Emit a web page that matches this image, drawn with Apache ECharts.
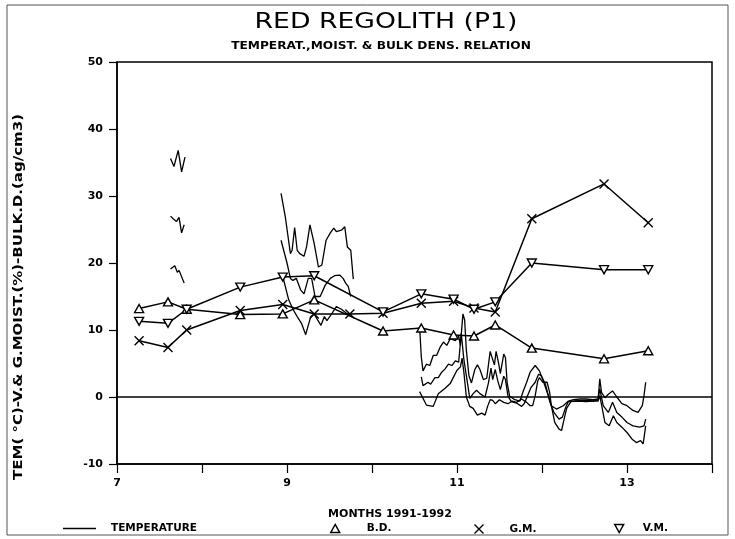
<!DOCTYPE html>
<html>
<head>
<meta charset="utf-8">
<title>Red Regolith (P1)</title>
<script src="https://cdn.jsdelivr.net/npm/echarts@6/dist/echarts.min.js"></script>
<style>
  html, body { margin: 0; padding: 0; background: #fff; }
  #chart { width: 735px; height: 539px; }
</style>
</head>
<body>
<div id="chart"></div>
<script>
// x axis: months 1991-1992 (7 = July 1991, 13 = January 1992)
const xTickLabels = [7, 9, 11, 13];

// bulk density (triangle up)
const bdMonths = [7.26, 7.60, 7.82, 8.45, 8.95, 9.32, 10.13, 10.58, 10.96, 11.20, 11.45, 11.88, 12.73, 13.25];
const bdValues = [13.2, 14.2, 13.1, 12.3, 12.4, 14.5, 9.85, 10.3, 9.25, 9.1, 10.75, 7.3, 5.7, 6.9];

// gravimetric moisture (cross)
const gmMonths = [7.26, 7.60, 7.82, 8.45, 8.95, 9.32, 9.74, 10.13, 10.58, 10.96, 11.20, 11.45, 11.88, 12.73, 13.25];
const gmValues = [8.4, 7.4, 10.0, 12.9, 13.8, 12.4, 12.4, 12.5, 14.0, 14.3, 13.3, 12.7, 26.6, 31.8, 26.0];

// volumetric moisture (triangle down)
const vmMonths = [7.26, 7.60, 7.82, 8.45, 8.95, 9.32, 10.13, 10.58, 10.96, 11.20, 11.45, 11.88, 12.73, 13.25];
const vmValues = [11.3, 11.0, 13.1, 16.4, 17.9, 18.1, 12.7, 15.4, 14.6, 13.1, 14.2, 20.0, 19.0, 19.0];

// temperature records, three traces, null = gap between records
const tempTop = [
  [7.63, 35.6], [7.67, 34.4], [7.72, 36.8], [7.76, 33.6], [7.80, 35.8],
  null,
  [8.93, 30.4], [8.98, 26.9], [9.04, 21.4], [9.06, 21.9], [9.09, 25.3], [9.12, 21.9], [9.15, 21.4],
  [9.20, 21.0], [9.23, 22.4], [9.27, 25.7], [9.29, 25.9], [9.32, 22.9], [9.37, 19.4], [9.41, 19.7],
  [9.46, 23.4], [9.51, 24.5], [9.55, 25.2], [9.58, 24.7], [9.64, 24.9], [9.68, 25.4], [9.71, 22.4],
  [9.75, 21.9], [9.78, 17.6],
  null,
  [10.56, 10.5], [10.58, 6.0], [10.60, 3.9], [10.64, 4.9], [10.68, 4.7], [10.72, 6.2], [10.76, 6.2],
  [10.80, 7.4], [10.84, 8.2], [10.88, 7.7], [10.92, 8.7], [10.98, 8.4], [11.02, 9.1], [11.04, 7.7],
  [11.07, 12.4], [11.09, 11.5], [11.11, 7.0], [11.14, 3.2], [11.17, 2.1], [11.21, 4.1], [11.24, 4.8],
  [11.27, 4.1], [11.31, 2.6], [11.35, 2.8], [11.39, 6.8], [11.41, 6.6], [11.44, 4.8], [11.46, 6.8],
  [11.49, 5.0], [11.51, 3.5], [11.55, 6.4], [11.57, 5.9], [11.59, 2.1], [11.62, 0.1], [11.68, -0.4],
  [11.74, -0.6], [11.78, 0.9], [11.82, 2.2], [11.86, 3.7], [11.92, 4.7], [11.97, 3.9], [12.02, 2.2],
  [12.08, 0.0], [12.11, -1.3], [12.17, -1.8], [12.25, -1.3], [12.31, -0.6], [12.37, -0.4], [12.45, -0.3],
  [12.52, -0.3], [12.60, -0.4], [12.66, -0.3], [12.68, 2.7], [12.70, 0.7], [12.74, -0.1], [12.78, 0.4],
  [12.83, 0.9], [12.88, 0.0], [12.94, -1.0], [13.00, -1.3], [13.07, -2.0], [13.13, -2.3], [13.18, -1.3],
  [13.20, 0.2], [13.22, 2.2]
];
const tempMid = [
  [7.63, 27.0], [7.66, 26.6], [7.70, 26.2], [7.73, 26.8], [7.76, 24.5], [7.79, 25.7],
  null,
  [8.93, 23.4], [9.00, 20.0], [9.04, 17.7], [9.07, 17.4], [9.11, 17.7], [9.16, 16.0], [9.20, 15.4],
  [9.25, 17.7], [9.29, 17.7], [9.33, 15.0], [9.39, 15.0], [9.45, 16.7], [9.51, 17.7], [9.56, 18.1],
  [9.62, 18.2], [9.66, 17.7], [9.69, 17.0], [9.72, 16.5], [9.75, 15.0],
  null,
  [10.58, 3.0], [10.60, 1.7], [10.66, 2.2], [10.69, 1.9], [10.74, 2.9], [10.78, 2.9], [10.82, 3.7],
  [10.86, 4.2], [10.90, 4.9], [10.94, 4.7], [10.98, 5.4], [11.02, 5.2], [11.05, 9.5], [11.08, 5.7],
  [11.11, 3.2], [11.14, 0.7], [11.15, -0.2], [11.19, 0.5], [11.23, 1.0], [11.27, 0.5], [11.33, 0.0],
  [11.37, 2.1], [11.40, 4.3], [11.42, 2.6], [11.45, 4.1], [11.48, 2.4], [11.51, 1.1], [11.55, 3.1],
  [11.57, 2.6], [11.60, 0.1], [11.64, -0.7], [11.70, -0.9], [11.76, -1.4], [11.79, -1.0], [11.83, 0.2],
  [11.87, 1.4], [11.92, 2.2], [11.96, 3.4], [11.99, 3.2], [12.04, 1.9], [12.09, -0.6], [12.14, -2.3],
  [12.20, -3.3], [12.24, -3.0], [12.28, -1.5], [12.31, -0.7], [12.39, -0.6], [12.52, -0.5], [12.60, -0.6],
  [12.66, -0.4], [12.68, 1.2], [12.72, -1.3], [12.78, -2.3], [12.83, -0.8], [12.88, -2.3], [12.94, -3.0],
  [13.00, -3.8], [13.07, -4.3], [13.15, -4.5], [13.20, -4.3], [13.22, -3.3]
];
const tempLow = [
  [7.63, 19.1], [7.68, 19.6], [7.71, 18.6], [7.73, 18.9], [7.79, 17.0],
  null,
  [8.96, 17.5], [9.02, 14.5], [9.07, 13.1], [9.12, 12.0], [9.17, 11.0], [9.22, 9.3], [9.25, 10.7],
  [9.28, 12.0], [9.32, 12.4], [9.36, 11.5], [9.40, 10.7], [9.44, 12.0], [9.47, 11.4], [9.53, 12.5],
  [9.58, 13.5], [9.64, 13.1], [9.70, 12.5], [9.76, 12.2],
  null,
  [10.56, 0.8], [10.64, -1.2], [10.72, -1.4], [10.78, 0.5], [10.86, 1.3], [10.92, 2.0], [10.96, 3.0],
  [11.00, 4.0], [11.04, 4.5], [11.06, 5.8], [11.08, 3.8], [11.11, 0.0], [11.15, -1.4], [11.19, -1.7],
  [11.24, -2.7], [11.29, -2.4], [11.33, -2.7], [11.36, -1.4], [11.39, -0.4], [11.42, -0.5], [11.45, -1.0],
  [11.50, -0.4], [11.55, -0.8], [11.60, -1.0], [11.65, -0.6], [11.70, -0.8], [11.76, -0.3], [11.82, -0.8],
  [11.86, -1.3], [11.89, -1.3], [11.92, 0.2], [11.95, 2.4], [11.97, 2.9], [12.01, 2.2], [12.06, 2.2],
  [12.09, 0.7], [12.11, -1.3], [12.15, -3.8], [12.20, -4.8], [12.23, -5.0], [12.26, -3.3], [12.29, -1.7],
  [12.34, -0.7], [12.42, -0.6], [12.52, -0.7], [12.60, -0.6], [12.66, -0.6], [12.68, 0.2], [12.74, -3.8],
  [12.79, -4.3], [12.84, -2.8], [12.88, -3.8], [12.94, -4.5], [13.00, -5.3], [13.06, -6.3], [13.11, -6.8],
  [13.16, -6.5], [13.19, -7.0], [13.22, -4.3]
];

const pair = (xs, ys) => xs.map((x, i) => [x, ys[i]]);

const FONT = 'DejaVu Sans';
const triUp = 'path://M5,0L10,9L0,9Z';
const triDown = 'path://M0,0L10,0L5,9Z';
const cross = 'path://M0,0L10,10M10,0L0,10';

const markerStyle = { color: '#fff', borderColor: '#000', borderWidth: 1.4 };
const lineStyle = { color: '#000', width: 1.5 };
const legendText = { color: '#000', fontFamily: FONT, fontWeight: 'bold', fontSize: 10.5 };

const tempSeries = (data, extra) => Object.assign({
  name: 'TEMPERATURE',
  type: 'line',
  data: data,
  showSymbol: false,
  connectNulls: false,
  color: '#000',
  lineStyle: { color: '#000', width: 1.3 },
  z: 2
}, extra || {});

const chart = echarts.init(document.getElementById('chart'));

const option = {
  animation: false,
  backgroundColor: '#fff',
  grid: {
    left: 117, right: 23, top: 62, bottom: 75,
    show: true, borderColor: '#000', borderWidth: 1.5
  },
  xAxis: {
    type: 'value',
    min: 7, max: 14, interval: 1,
    axisLine: { show: true, onZero: false, lineStyle: { color: '#000', width: 1.5 } },
    axisTick: { show: true, length: 9, lineStyle: { color: '#000', width: 1.2 } },
    axisLabel: {
      color: '#000', fontFamily: FONT, fontWeight: 'bold', fontSize: 11, margin: 14,
      formatter: v => (xTickLabels.indexOf(v) >= 0 ? String(v) : '')
    },
    splitLine: { show: false }
  },
  yAxis: {
    type: 'value',
    min: -10, max: 50, interval: 10,
    axisLine: { show: true, onZero: false, lineStyle: { color: '#000', width: 1.5 } },
    axisTick: { show: true, length: 8, lineStyle: { color: '#000', width: 1.2 } },
    axisLabel: { color: '#000', fontFamily: FONT, fontWeight: 'bold', fontSize: 11, margin: 14 },
    splitLine: { show: false }
  },
  legend: [
    {
      left: 58, top: 518, itemWidth: 33, itemHeight: 1.5, textStyle: Object.assign({ padding: [0, 0, 0, 10] }, legendText),
      data: [{ name: 'TEMPERATURE', icon: 'rect', itemStyle: { color: '#000' } }]
    },
    {
      left: 325, top: 518, itemWidth: 9, itemHeight: 9, textStyle: Object.assign({ padding: [0, 0, 0, 22] }, legendText),
      data: [{ name: 'B.D.', icon: triUp, itemStyle: markerStyle }]
    },
    {
      left: 467, top: 517, itemWidth: 9, itemHeight: 9, textStyle: Object.assign({ padding: [0, 0, 0, 21] }, legendText),
      data: [{ name: 'G.M.', icon: cross, itemStyle: { color: 'none', borderColor: '#000', borderWidth: 1.4 } }]
    },
    {
      left: 609, top: 518, itemWidth: 9, itemHeight: 9, textStyle: Object.assign({ padding: [0, 0, 0, 14] }, legendText),
      data: [{ name: 'V.M.', icon: triDown, itemStyle: markerStyle }]
    }
  ],
  graphic: [
    {
      type: 'rect', silent: true, z: -1,
      shape: { x: 7, y: 5, width: 721, height: 530 },
      style: { fill: 'none', stroke: '#555', lineWidth: 1 }
    },
    {
      type: 'text', x: 386, y: 23, scaleX: 1.27,
      style: { text: 'RED REGOLITH (P1)', font: 'normal 21px "DejaVu Sans"', fill: '#000', align: 'center', verticalAlign: 'middle', textAlign: 'center', textVerticalAlign: 'middle' }
    },
    {
      type: 'text', x: 381, y: 46, scaleX: 1.16,
      style: { text: 'TEMPERAT.,MOIST. & BULK DENS. RELATION', font: 'bold 10.5px "DejaVu Sans"', fill: '#000', align: 'center', verticalAlign: 'middle', textAlign: 'center', textVerticalAlign: 'middle' }
    },
    {
      type: 'text', x: 390, y: 514,
      style: { text: 'MONTHS 1991-1992', font: 'bold 11px "DejaVu Sans"', fill: '#000', align: 'center', verticalAlign: 'middle', textAlign: 'center', textVerticalAlign: 'middle' }
    },
    {
      type: 'text', x: 19, y: 297, rotation: Math.PI / 2, scaleX: 1.25,
      style: { text: 'TEM( °C)-V.& G.MOIST.(%)-BULK.D.(ag/cm3)', font: 'bold 12px "DejaVu Sans"', fill: '#000', align: 'center', verticalAlign: 'middle', textAlign: 'center', textVerticalAlign: 'middle' }
    }
  ],
  series: [
    tempSeries(tempTop, {
      markLine: {
        silent: true, symbol: 'none', label: { show: false },
        lineStyle: { color: '#000', width: 1.5, type: 'solid' },
        data: [{ yAxis: 0 }]
      }
    }),
    tempSeries(tempMid),
    tempSeries(tempLow),
    {
      name: 'B.D.', type: 'line', data: pair(bdMonths, bdValues),
      symbol: triUp, symbolSize: [9, 8], itemStyle: markerStyle, lineStyle: lineStyle, z: 3
    },
    {
      name: 'G.M.', type: 'line', data: pair(gmMonths, gmValues),
      symbol: cross, symbolSize: 9,
      itemStyle: { color: 'none', borderColor: '#000', borderWidth: 1.4 }, lineStyle: lineStyle, z: 3
    },
    {
      name: 'V.M.', type: 'line', data: pair(vmMonths, vmValues),
      symbol: triDown, symbolSize: [9, 8], itemStyle: markerStyle, lineStyle: lineStyle, z: 3
    }
  ]
};

chart.setOption(option);
</script>
</body>
</html>
